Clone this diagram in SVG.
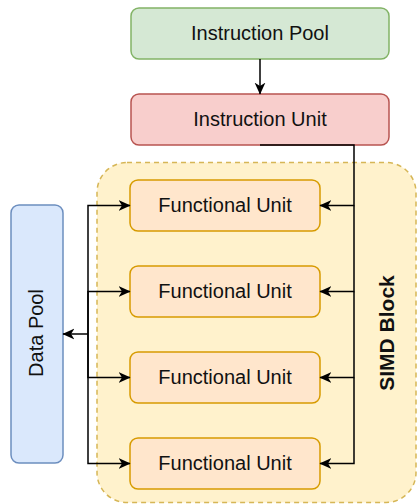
<svg xmlns="http://www.w3.org/2000/svg" width="417" height="504" viewBox="0 0 417 504">
<style>
text{font-family:"Liberation Sans",Arial,sans-serif;font-size:20px;fill:#111;text-anchor:middle}
.fu{fill:#ffe6cc;stroke:#d79b00;stroke-width:1.5}
.edge{fill:none;stroke:#000;stroke-width:1.5}
</style>
<defs>
<marker id="arr" viewBox="0 0 10 10" markerWidth="12" markerHeight="12" refX="9.5" refY="5" orient="auto" markerUnits="userSpaceOnUse">
<path d="M0,0.5 L10,5 L0,9.5 L2.8,5 z" fill="#000"/>
</marker>
</defs>
<g id="simd-block">
<rect x="97" y="162.5" width="319" height="340" rx="30" fill="#fff2cc" stroke="#d6b656" stroke-width="1.5" stroke-dasharray="5,4"/>
<text transform="translate(393.5,333) rotate(-90)" style="font-weight:bold;font-size:21px">SIMD Block</text>
</g>
<g id="instruction-pool">
<rect x="131" y="8" width="258" height="51" rx="8" fill="#d5e8d4" stroke="#82b366" stroke-width="1.5"/>
<text x="260" y="39.5">Instruction Pool</text>
</g>
<g id="instruction-unit">
<rect x="131" y="94" width="258" height="51" rx="8" fill="#f8cecc" stroke="#b85450" stroke-width="1.5"/>
<text x="260" y="125.5">Instruction Unit</text>
</g>
<g id="data-pool">
<rect x="11" y="205" width="52" height="258" rx="8" fill="#dae8fc" stroke="#6c8ebf" stroke-width="1.5"/>
<text transform="translate(43,333) rotate(-90)">Data Pool</text>
</g>
<g id="fu1"><rect class="fu" x="130" y="180" width="190" height="51" rx="8"/><text x="225" y="211.5">Functional Unit</text></g>
<g id="fu2"><rect class="fu" x="130" y="266" width="190" height="51" rx="8"/><text x="225" y="297.5">Functional Unit</text></g>
<g id="fu3"><rect class="fu" x="130" y="352" width="190" height="51" rx="8"/><text x="225" y="383.5">Functional Unit</text></g>
<g id="fu4"><rect class="fu" x="130" y="438" width="190" height="51" rx="8"/><text x="225" y="469.5">Functional Unit</text></g>
<g id="connectors">
<path class="edge" d="M260,59 V94" marker-end="url(#arr)"/>
<path class="edge" d="M260,145 H354 V205.5 H320" marker-end="url(#arr)"/>
<path class="edge" d="M354,205.5 V291.5 H320" marker-end="url(#arr)"/>
<path class="edge" d="M354,291.5 V377.5 H320" marker-end="url(#arr)"/>
<path class="edge" d="M354,377.5 V463.5 H320" marker-end="url(#arr)"/>
<path class="edge" d="M88,334 H63" marker-end="url(#arr)"/>
<path class="edge" d="M88,334 V205.5 H130" marker-end="url(#arr)"/>
<path class="edge" d="M88,334 V291.5 H130" marker-end="url(#arr)"/>
<path class="edge" d="M88,334 V377.5 H130" marker-end="url(#arr)"/>
<path class="edge" d="M88,334 V463.5 H130" marker-end="url(#arr)"/>
</g>
</svg>
